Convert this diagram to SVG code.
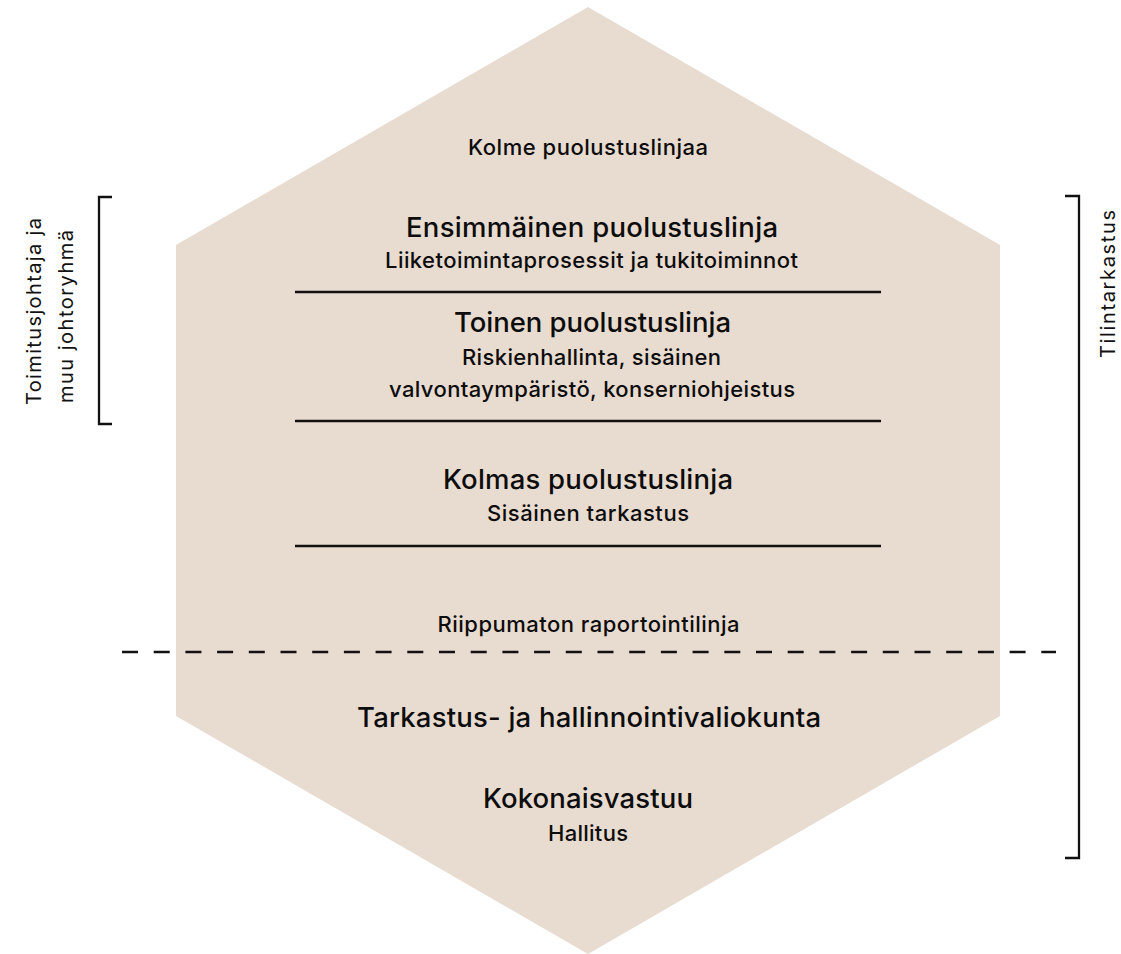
<svg xmlns="http://www.w3.org/2000/svg" width="1121" height="954" viewBox="0 0 1121 954">
<style>
.t{font-family:Inter,"Liberation Sans",Arial,sans-serif;font-weight:500;fill:#0d0d0d;text-anchor:middle}
.s{font-size:22px}
.l{font-size:27.5px}
.side{font-family:Inter,"Liberation Sans",Arial,sans-serif;font-weight:400;font-size:20px;fill:#111}
.rule{stroke:#111;stroke-width:2.3;fill:none}
</style>
<rect width="1121" height="954" fill="#ffffff"/>
<g id="hexagon">
<polygon points="588,7 1000,245 1000,716 588,954 176,716 176,245" fill="#e8dbd0"/>
</g>
<g id="connectors">
<line class="rule" x1="295" y1="292" x2="881" y2="292"/>
<line class="rule" x1="295" y1="421" x2="881" y2="421"/>
<line class="rule" x1="295" y1="546" x2="881" y2="546"/>
<line class="rule" x1="122" y1="652" x2="1056" y2="652" stroke-width="2.6" stroke-dasharray="16 15.7"/>
<polyline class="rule" points="112,197 99,197 99,424 112,424"/>
<polyline class="rule" points="1065,196 1079,196 1079,858 1065,858"/>
</g>
<g id="title">
<text class="t s" x="588" y="155" textLength="240" lengthAdjust="spacing">Kolme puolustuslinjaa</text>
</g>
<g id="line1">
<text class="t l" x="592" y="237" textLength="372" lengthAdjust="spacing">Ensimmäinen puolustuslinja</text>
<text class="t s" x="591.5" y="268" textLength="413" lengthAdjust="spacing">Liiketoimintaprosessit ja tukitoiminnot</text>
</g>
<g id="line2">
<text class="t l" x="592.5" y="332" textLength="277" lengthAdjust="spacing">Toinen puolustuslinja</text>
<text class="t s" x="591.5" y="365" textLength="259" lengthAdjust="spacing">Riskienhallinta, sisäinen</text>
<text class="t s" x="592" y="397" textLength="406" lengthAdjust="spacing">valvontaympäristö, konserniohjeistus</text>
</g>
<g id="line3">
<text class="t l" x="588" y="489" textLength="290" lengthAdjust="spacing">Kolmas puolustuslinja</text>
<text class="t s" x="588" y="521" textLength="202" lengthAdjust="spacing">Sisäinen tarkastus</text>
</g>
<g id="reporting">
<text class="t s" x="588.5" y="632" textLength="302" lengthAdjust="spacing">Riippumaton raportointilinja</text>
</g>
<g id="committee">
<text class="t l" x="589" y="727" textLength="464" lengthAdjust="spacing">Tarkastus- ja hallinnointivaliokunta</text>
</g>
<g id="board">
<text class="t l" x="588" y="808" textLength="210" lengthAdjust="spacing">Kokonaisvastuu</text>
<text class="t s" x="588" y="841" textLength="80" lengthAdjust="spacing">Hallitus</text>
</g>
<g id="management">
<text class="side" transform="translate(41,405) rotate(-90)" x="0" y="0" textLength="187" lengthAdjust="spacing">Toimitusjohtaja ja</text>
<text class="side" transform="translate(73,403) rotate(-90)" x="0" y="0" textLength="173" lengthAdjust="spacing">muu johtoryhmä</text>
</g>
<g id="audit">
<text class="side" transform="translate(1115,358) rotate(-90)" x="0" y="0" textLength="148" lengthAdjust="spacing">Tilintarkastus</text>
</g>
</svg>
